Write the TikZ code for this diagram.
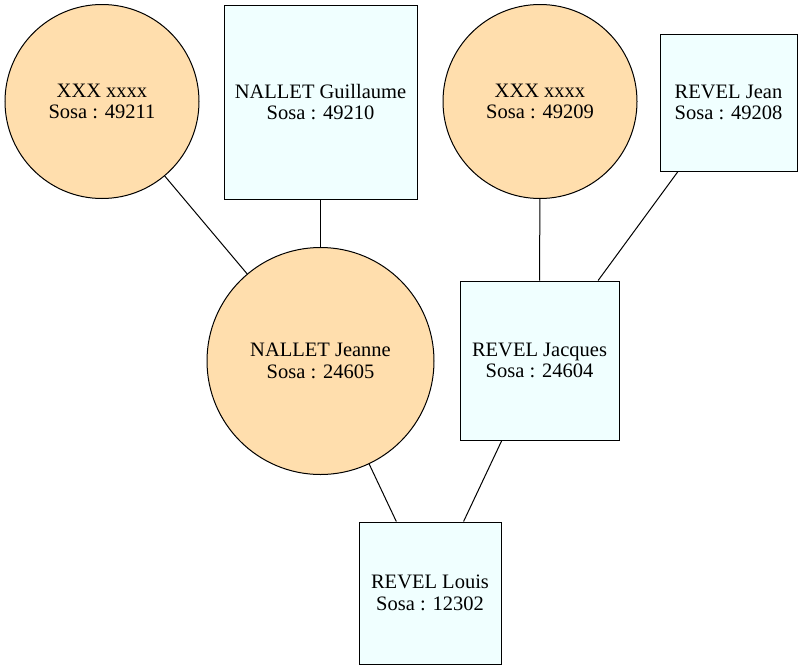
\documentclass[tikz,border=0pt]{standalone}
\usepackage{fontspec}
\setmainfont{Liberation Serif}
\definecolor{navajo}{HTML}{FFDEAD}
\definecolor{azurefill}{HTML}{F0FFFF}
\tikzset{
  person/.style={draw=black, line width=1pt, inner sep=0pt, align=center,
    font=\fontsize{20.5}{21.6}\selectfont},
  female/.style={person, circle, fill=navajo},
  male/.style={person, rectangle, fill=azurefill},
  link/.style={draw=black, line width=1pt}
}
\begin{document}
\begin{tikzpicture}[x=1pt,y=-1pt]
\useasboundingbox (0,0) rectangle (803,670);
\node[female, minimum size=194pt] (c1) at (102,101.5) {XXX xxxx\\Sosa : 49211};
\node[male, minimum width=193pt, minimum height=194pt] (s1) at (320.5,102) {NALLET Guillaume\\Sosa : 49210};
\node[female, minimum size=194pt] (c2) at (540,101.5) {XXX xxxx\\Sosa : 49209};
\node[male, minimum size=137pt] (s2) at (728.5,102.5) {REVEL Jean\\Sosa : 49208};
\node[female, minimum size=227pt] (c3) at (320.5,361) {NALLET Jeanne\\Sosa : 24605};
\node[male, minimum size=159pt] (s3) at (539.5,360.5) {REVEL Jacques\\Sosa : 24604};
\node[male, minimum size=142pt] (s4) at (430,593) {REVEL Louis\\Sosa : 12302};
\draw[link] (c1) -- (c3);
\draw[link] (s1) -- (c3);
\draw[link] (c2) -- (s3);
\draw[link] (s2) -- (s3);
\draw[link] (c3) -- (s4);
\draw[link] (s3) -- (s4);
\end{tikzpicture}
\end{document}
